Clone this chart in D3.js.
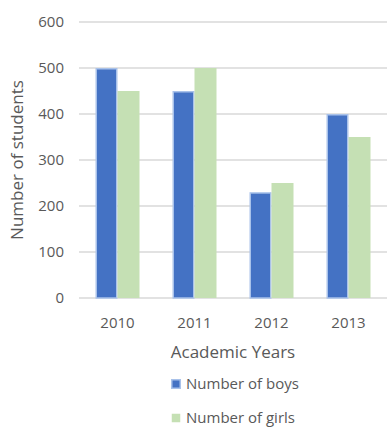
<!DOCTYPE html>
<html>
<head>
<meta charset="utf-8">
<script src="https://cdn.jsdelivr.net/npm/d3@7"></script>
<style>
	body { margin: 0; background: #fff; }
	text { font-family: "Open Sans", sans-serif; fill: #595959; }
</style>
</head>
<body>
<div id="chart"></div>
<script>
// DATA
const years = ["2010", "2011", "2012", "2013"];
const boys = [500, 450, 230, 400];
const girls = [450, 500, 250, 350];
const seriesNames = ["Number of boys", "Number of girls"];
const yTicks = [0, 100, 200, 300, 400, 500, 600];

const width = 390,
	height = 438;
const plot = { left: 79, right: 387, top: 22, bottom: 298 };

const svg = d3.select("#chart").append("svg").attr("width", width).attr("height", height);

//SCALES
const x = d3.scaleBand().domain(years).range([plot.left, plot.right]).paddingInner(0.4286).paddingOuter(0.2143);
const x1 = d3.scaleBand().domain([0, 1]).range([0, x.bandwidth()]);
const y = d3.scaleLinear().domain([0, 600]).range([plot.bottom, plot.top]);

const colors = ["#4472C4", "#C5E0B4"];

//GRIDLINES
svg
	.selectAll("line.grid")
	.data(yTicks)
	.enter()
	.append("line")
	.attr("x1", plot.left)
	.attr("x2", plot.right)
	.attr("y1", d => y(d))
	.attr("y2", d => y(d))
	.style("stroke", "#D9D9D9")
	.style("stroke-width", 1.5);

//Y TICK LABELS
svg
	.selectAll("text.ytick")
	.data(yTicks)
	.enter()
	.append("text")
	.attr("x", 64)
	.attr("y", d => y(d))
	.attr("dy", "0.35em")
	.attr("text-anchor", "end")
	.style("font-size", "15px")
	.text(d => d);

//BARS
const rows = years.map((yr, i) => ({ year: yr, values: [boys[i], girls[i]] }));
const group = svg
	.selectAll("g.year")
	.data(rows)
	.enter()
	.append("g")
	.attr("transform", d => `translate(${x(d.year)},0)`);

group
	.selectAll("rect")
	.data(d => d.values.map((v, k) => ({ v, k })))
	.enter()
	.append("rect")
	.attr("x", d => x1(d.k) + (d.k === 0 ? 0.75 : 0))
	.attr("y", d => y(d.v) + (d.k === 0 ? 0.75 : 0))
	.attr("width", d => x1.bandwidth() - (d.k === 0 ? 1.5 : 0))
	.attr("height", d => y(0) - y(d.v) - (d.k === 0 ? 0.75 : 0))
	.attr("fill", d => colors[d.k])
	.style("stroke", d => (d.k === 0 ? "#A9C2EA" : "none"))
	.style("stroke-width", 1.5);

//X LABELS
svg
	.selectAll("text.xtick")
	.data(years)
	.enter()
	.append("text")
	.attr("x", d => x(d) + x.bandwidth() / 2)
	.attr("y", 323)
	.attr("dy", "0.35em")
	.attr("text-anchor", "middle")
	.style("font-size", "15px")
	.text(d => d);

//AXIS TITLES
svg
	.append("text")
	.attr("x", (plot.left + plot.right) / 2)
	.attr("y", 352)
	.attr("dy", "0.35em")
	.attr("text-anchor", "middle")
	.style("font-size", "17px")
	.text("Academic Years");

svg
	.append("text")
	.attr("transform", `translate(17, 160) rotate(-90)`)
	.attr("dy", "0.35em")
	.attr("text-anchor", "middle")
	.style("font-size", "17px")
	.text("Number of students");

//LEGEND
const legend = svg
	.selectAll("g.legend")
	.data(seriesNames)
	.enter()
	.append("g")
	.attr("transform", (d, i) => `translate(171, ${384 + i * 34})`);

legend
	.append("rect")
	.attr("x", 0.75)
	.attr("y", -4.25)
	.attr("width", 8.5)
	.attr("height", 8.5)
	.attr("fill", (d, i) => colors[i])
	.style("stroke", (d, i) => (i === 0 ? "#A9C2EA" : "none"))
	.style("stroke-width", 1.5);

legend
	.append("text")
	.attr("x", 15)
	.attr("dy", "0.35em")
	.style("font-size", "15px")
	.text(d => d);
</script>
</body>
</html>
